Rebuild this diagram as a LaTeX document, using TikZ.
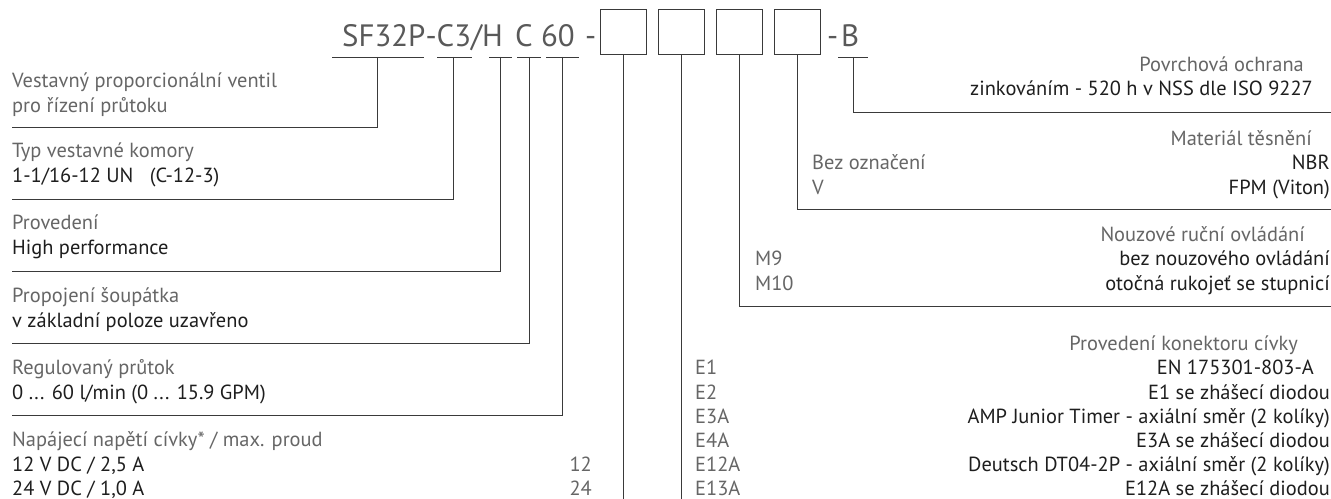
\documentclass[tikz,border=0pt]{standalone}
\usepackage{fontspec}
\setmainfont{PT Sans}
\usepackage{xcolor}
\usepackage{tikz}
\usetikzlibrary{positioning,calc}
\definecolor{CodeGray}{HTML}{595959}
\definecolor{TitleGray}{HTML}{666666}
\definecolor{ValDark}{HTML}{1E1E1E}
\definecolor{LineDark}{HTML}{3A3A3A}
\tikzset{
  codetext/.style={anchor=base west,inner sep=0pt,font=\fontsize{31}{33}\selectfont,text=CodeGray},
  codebox/.style={draw=LineDark,line width=1pt,minimum width=46bp,minimum height=45bp,inner sep=0pt},
  underline/.style={draw=LineDark,line width=0.9pt},
  leader/.style={draw=LineDark,line width=0.9pt},
  ltitle/.style={anchor=base west,inner sep=0pt,font=\fontsize{20.5}{24}\selectfont,text=TitleGray},
  lvalue/.style={anchor=base west,inner sep=0pt,font=\fontsize{20.5}{24}\selectfont,text=ValDark},
  optcode/.style={anchor=base west,inner sep=0pt,font=\fontsize{20.5}{24}\selectfont,text=TitleGray},
  rtitle/.style={anchor=base east,inner sep=0pt,font=\fontsize{20.5}{24}\selectfont,text=TitleGray},
  rvalue/.style={anchor=base east,inner sep=0pt,font=\fontsize{20.5}{24}\selectfont,text=ValDark}
}

\begin{document}
\begin{tikzpicture}[x=1bp,y=-1bp]
\fill[white] (0,0) rectangle (1331,499);
\useasboundingbox (0,0) rectangle (1331,499);

% ordering code
\node[codetext] (sf) at (342,47) {SF32P-C3/H};
\node[codetext] (c60) at (515,47) {C 60};
\node[codetext] (dash1) at (585,47) {-};
\foreach \i/\x in {1/623,2/681,3/739,4/797}
  \node[codebox] (box\i) at (\x,32.5) {};
\node[codetext] (dash2) at (827,47) {-};
\node[codetext] (surf) at (841,47) {B};

% underlines of the code parts
\draw[underline] (332,57) -- (424,57);
\draw[underline] (437,57) -- (472,57);
\draw[underline] (489,57) -- (512,57);
\draw[underline] (517,57) -- (541,57);
\draw[underline] (546,57) -- (579,57);
\draw[underline] (838,57) -- (868,57);
\coordinate (u1) at (377,57);
\coordinate (u2) at (453,57);
\coordinate (u3) at (500,57);
\coordinate (u4) at (529,57);
\coordinate (u5) at (562,57);
\coordinate (u6) at (853,57);

% left column
\node[ltitle] (valve) at (12,88) {Vestavný proporcionální ventil};
\node[ltitle] (valve2) at (12,113) {pro řízení průtoku};
\coordinate (l1) at (12,127);
\node[ltitle] (cavity) at (12,158) {Typ vestavné komory};
\node[lvalue] (cavity2) at (12,183) {1-1/16-12 UN\ \ \ (C-12-3)};
\coordinate (l2) at (12,199);
\node[ltitle] (perf) at (12,230) {Provedení};
\node[lvalue] (perf2) at (12,255) {High performance};
\coordinate (l3) at (12,271);
\node[ltitle] (spool) at (12,302) {Propojení šoupátka};
\node[lvalue] (spool2) at (12,327) {v základní poloze uzavřeno};
\coordinate (l4) at (12,343);
\node[ltitle] (flow) at (12,374) {Regulovaný průtok};
\node[lvalue] (flow2) at (12,399) {0 ... 60 l/min (0 ... 15.9 GPM)};
\coordinate (l5) at (12,415);
\node[ltitle] (volt) at (12,446) {Napájecí napětí cívky* / max. proud};
\node[lvalue] (volt12) at (12,471) {12 V DC / 2,5 A};
\node[lvalue] (volt24) at (12,495) {24 V DC / 1,0 A};
\node[optcode,anchor=base east] (c12) at (592,471) {12};
\node[optcode,anchor=base east] (c24) at (592,495) {24};

\draw[leader] (u1) |- (l1);
\draw[leader] (u2) |- (l2);
\draw[leader] (u3) |- (l3);
\draw[leader] (u4) |- (l4);
\draw[leader] (u5) |- (l5);

% right column
\node[rtitle] (coat) at (1304,72) {Povrchová ochrana};
\node[rvalue] (coat2) at (1313,96) {zinkováním - 520 h v NSS dle ISO 9227};
\coordinate (r1) at (1331,112);
\node[rtitle] (seal) at (1312,146) {Materiál těsnění};
\node[optcode] (seal0) at (812,170) {Bez označení};
\node[rvalue] (nbr) at (1330,170) {NBR};
\node[optcode] (sealv) at (812,195) {V};
\node[rvalue] (fpm) at (1330,195) {FPM (Viton)};
\coordinate (r2) at (1331,209);
\node[rtitle] (manual) at (1305,242) {Nouzové ruční ovládání};
\node[optcode] (m9) at (755,266) {M9};
\node[rvalue] (m9t) at (1330,266) {bez nouzového ovládání};
\node[optcode] (m10) at (755,290) {M10};
\node[rvalue] (m10t) at (1330,290) {otočná rukojeť se stupnicí};
\coordinate (r3) at (1331,306);
\node[rtitle] (conn) at (1298,350) {Provedení konektoru cívky};
\node[optcode] (e1) at (695,374) {E1};
\node[rvalue] (e1t) at (1314,374) {EN 175301-803-A};
\node[optcode] (e2) at (695,399) {E2};
\node[rvalue] (e2t) at (1330,399) {E1 se zhášecí diodou};
\node[optcode] (e3) at (695,423) {E3A};
\node[rvalue] (e3t) at (1330,423) {AMP Junior Timer - axiální směr (2 kolíky)};
\node[optcode] (e4) at (695,447) {E4A};
\node[rvalue] (e4t) at (1330,447) {E3A se zhášecí diodou};
\node[optcode] (e12) at (695,471) {E12A};
\node[rvalue] (e12t) at (1330,471) {Deutsch DT04-2P - axiální směr (2 kolíky)};
\node[optcode] (e13) at (695,495) {E13A};
\node[rvalue] (e13t) at (1330,495) {E12A se zhášecí diodou};

\coordinate (b1) at (623,499);
\coordinate (b2) at (681,499);
\draw[leader] (box1.south) -- (b1);
\draw[leader] (box2.south) -- (b2);
\draw[leader] (box3.south) |- (r3);
\draw[leader] (box4.south) |- (r2);
\draw[leader] (u6) |- (r1);
\end{tikzpicture}
\end{document}
